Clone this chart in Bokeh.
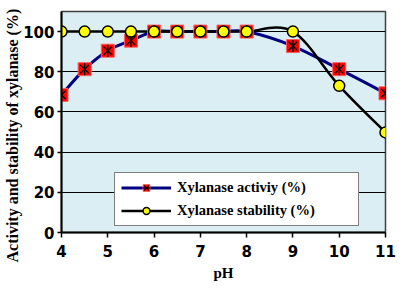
from bokeh.plotting import figure
from bokeh.models import Legend, LegendItem, FixedTicker, Range1d, Title
from bokeh.embed import file_html
from bokeh.resources import INLINE
import numpy as np

ph = [4, 4.5, 5, 5.5, 6, 6.5, 7, 7.5, 8, 9, 10, 11]
activity = [68.5, 81.3, 90.5, 95.5, 100, 100, 100, 100, 100, 92.8, 81.3, 69.3]
stability = [100, 100, 100, 100, 100, 100, 100, 100, 100, 100, 73, 49.8]
x_ticks = [4, 5, 6, 7, 8, 9, 10, 11]
y_ticks = [0, 20, 40, 60, 80, 100]


def smooth_segments(xs, ys):
    xs = np.asarray(xs, float)
    ys = np.asarray(ys, float)
    n = len(xs)
    x0, y0, x1, y1, cx0, cy0, cx1, cy1 = [], [], [], [], [], [], [], []
    for i in range(n - 1):
        ip = max(i - 1, 0)
        inx = min(i + 2, n - 1)
        x0.append(xs[i]); y0.append(ys[i])
        x1.append(xs[i + 1]); y1.append(ys[i + 1])
        cx0.append(xs[i] + (xs[i + 1] - xs[ip]) / 6)
        cy0.append(ys[i] + (ys[i + 1] - ys[ip]) / 6)
        cx1.append(xs[i + 1] - (xs[inx] - xs[i]) / 6)
        cy1.append(ys[i + 1] - (ys[inx] - ys[i]) / 6)
    return dict(x0=x0, y0=y0, x1=x1, y1=y1, cx0=cx0, cy0=cy0, cx1=cx1, cy1=cy1)


p = figure(width=402, height=290, output_backend="svg", toolbar_location=None,
           x_range=Range1d(4, 11), y_range=Range1d(0, 110),
           min_border_left=61, min_border_right=17, min_border_top=11, min_border_bottom=58)
p.border_fill_color = "white"
p.outline_line_color = "#404040"
p.outline_line_width = 1.5
p.background_fill_color = "#DAEEF3"

p.xgrid.visible = False
p.ygrid.grid_line_color = "black"
p.ygrid.grid_line_width = 1
p.ygrid.ticker = FixedTicker(ticks=y_ticks)

p.xaxis.ticker = FixedTicker(ticks=x_ticks)
p.yaxis.ticker = FixedTicker(ticks=y_ticks)
for ax in (p.xaxis[0], p.yaxis[0]):
    ax.axis_line_color = "black"
    ax.axis_line_width = 2
    ax.major_tick_line_color = "black"
    ax.major_tick_line_width = 1.5
    ax.major_tick_out = 5
    ax.major_tick_in = 0
    ax.minor_tick_line_color = None
    ax.major_label_text_font = "DejaVu Sans"
    ax.major_label_text_font_style = "bold"
    ax.major_label_text_font_size = "15px"
    ax.major_label_text_color = "black"
    ax.axis_label_text_font = "Liberation Serif"
    ax.axis_label_text_font_style = "bold"
    ax.axis_label_text_color = "black"

p.xaxis.axis_label = "pH"
p.xaxis.axis_label_text_font_size = "15px"
p.xaxis.major_label_standoff = 7
p.xaxis.axis_label_standoff = 5
p.yaxis.major_label_standoff = 3
p.yaxis.major_tick_out = 4

ytitle = Title(text="Activity and stability of xylanase (%)", align="left", offset=-30,
               text_font="Liberation Serif", text_font_style="bold", text_font_size="16px",
               text_color="black", standoff=0)
p.add_layout(ytitle, "left")

seg_a = smooth_segments(ph, activity)
seg_s = smooth_segments(ph, stability)

la = p.bezier(x0="x0", y0="y0", x1="x1", y1="y1", cx0="cx0", cy0="cy0", cx1="cx1", cy1="cy1",
              source=seg_a, line_color="#000080", line_width=3)
ls = p.bezier(x0="x0", y0="y0", x1="x1", y1="y1", cx0="cx0", cy0="cy0", cx1="cx1", cy1="cy1",
              source=seg_s, line_color="black", line_width=2.5)

sq = p.scatter(ph, activity, marker="square", size=13, fill_color="red", line_color="#ff6060", line_width=1)
sx = p.scatter(ph, activity, marker="x", size=12, line_color="black", line_width=1.3)
sd = p.scatter(ph, activity, marker="dash", size=12, angle=np.pi / 2, line_color="black", line_width=1.3)
ci = p.scatter(ph, stability, marker="circle", size=11, fill_color="yellow", line_color="black", line_width=1.5)

legend = Legend(items=[
    LegendItem(label="Xylanase activiy (%)", renderers=[la, sq, sx, sd]),
    LegendItem(label="Xylanase stability (%)", renderers=[ls, ci]),
], location=(53, 6))
legend.border_line_color = "black"
legend.border_line_width = 1.5
legend.background_fill_color = "white"
legend.background_fill_alpha = 1
legend.label_text_font = "Liberation Serif"
legend.label_text_font_style = "bold"
legend.label_text_font_size = "14.5px"
legend.label_text_color = "black"
legend.glyph_width = 50
legend.glyph_height = 17
legend.label_height = 17
legend.label_width = 175
legend.label_standoff = 6
legend.spacing = 6
legend.padding = 6
legend.margin = 0
p.add_layout(legend, "center")

open("out.html", "w").write(file_html(p, INLINE))
